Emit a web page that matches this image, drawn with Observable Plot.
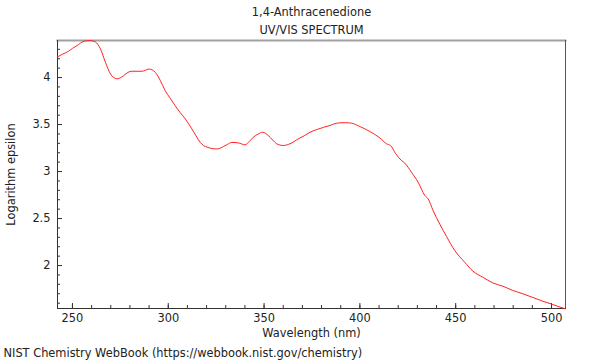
<!DOCTYPE html>
<html>
<head>
<meta charset="utf-8">
<script src="https://cdn.jsdelivr.net/npm/d3@7"></script>
<script src="https://cdn.jsdelivr.net/npm/@observablehq/plot@0.6"></script>
<style>
  html, body { margin: 0; padding: 0; background: #fff; }
  #chart { width: 600px; height: 360px; }
</style>
</head>
<body>
<div id="chart"></div>
<script>
const title = "1,4-Anthracenedione";
const subtitle = "UV/VIS SPECTRUM";
const caption = "NIST Chemistry WebBook (https://webbook.nist.gov/chemistry)";
const xLabel = "Wavelength (nm)";
const yLabel = "Logarithm epsilon";

const wavelength = [242.2, 245, 248, 250, 252.4, 255.9, 259, 262, 264.6, 267.2, 269.8, 271.5, 273.3, 276.7, 279, 281, 286.3, 290, 293.2, 295.8, 298.4, 301, 303.6, 306.3, 308.9, 312.3, 314.5, 316.7, 318.5, 320.2, 322.8, 325.4, 328.8, 331, 333.2, 336.6, 340.1, 342.3, 344.4, 347, 349.3, 352.2, 354.5, 356.6, 360, 363.5, 367.9, 370.9, 374, 378, 381, 384.4, 387, 389.6, 392.5, 395.7, 400, 405.2, 410.4, 413.9, 416, 418.75, 421.7, 423.4, 426.9, 430.4, 433.9, 435.6, 438.2, 441.7, 445.2, 449.5, 454.7, 459, 464.2, 469.4, 474.6, 479.8, 485, 490.3, 495.5, 500.7, 507];
const logEps = [4.22, 4.25, 4.28, 4.31, 4.34, 4.385, 4.394, 4.378, 4.305, 4.163, 4.04, 4.00, 3.986, 4.02, 4.055, 4.067, 4.067, 4.09, 4.056, 3.97, 3.86, 3.78, 3.70, 3.625, 3.56, 3.454, 3.38, 3.31, 3.275, 3.26, 3.245, 3.24, 3.266, 3.29, 3.31, 3.305, 3.284, 3.32, 3.365, 3.40, 3.418, 3.383, 3.335, 3.295, 3.277, 3.295, 3.348, 3.38, 3.418, 3.45, 3.47, 3.49, 3.51, 3.518, 3.52, 3.514, 3.479, 3.426, 3.358, 3.295, 3.277, 3.188, 3.117, 3.09, 2.993, 2.886, 2.745, 2.71, 2.585, 2.44, 2.31, 2.16, 2.035, 1.94, 1.875, 1.815, 1.78, 1.735, 1.70, 1.66, 1.62, 1.585, 1.54];

const xMajorTicks = [250, 300, 350, 400, 450, 500];
const xMinorTicks = [250, 260, 270, 280, 290, 300, 310, 320, 330, 340, 350, 360, 370, 380, 390, 400, 410, 420, 430, 440, 450, 460, 470, 480, 490, 500];
const yMajorTicks = [2, 2.5, 3, 3.5, 4];
const yMinorTicks = [1.6, 1.7, 1.8, 1.9, 2.0, 2.1, 2.2, 2.3, 2.4, 2.5, 2.6, 2.7, 2.8, 2.9, 3.0, 3.1, 3.2, 3.3, 3.4, 3.5, 3.6, 3.7, 3.8, 3.9, 4.0, 4.1, 4.2, 4.3];

const data = wavelength.map((w, i) => ({w, v: logEps[i]}));

const chart = Plot.plot({
  width: 600,
  height: 360,
  marginLeft: 57,
  marginRight: 35,
  marginTop: 40,
  marginBottom: 52,
  style: {fontFamily: "'DejaVu Sans', sans-serif", fontSize: "11.4px", color: "#222", background: "#fff"},
  x: {domain: [242.2, 507.3]},
  y: {domain: [1.543, 4.394]},
  marks: [
    // inward tick marks
    Plot.axisX({ticks: xMinorTicks, tickSize: 3, dy: -3, text: null, stroke: "#333", label: null}),
    Plot.axisX({ticks: xMajorTicks, tickSize: 5, dy: -5, text: null, stroke: "#333", label: null}),
    Plot.axisY({ticks: yMinorTicks, tickSize: 3, dx: 3, text: null, stroke: "#333", label: null}),
    Plot.axisY({ticks: yMajorTicks, tickSize: 5, dx: 5, text: null, stroke: "#333", label: null}),
    // tick labels and axis titles
    Plot.axisX({ticks: xMajorTicks, tickSize: 0, tickPadding: 5, fill: "#222",
      label: xLabel, labelAnchor: "center", labelArrow: "none", labelOffset: 28}),
    Plot.axisY({ticks: yMajorTicks, tickSize: 0, tickPadding: 7, fill: "#222",
      tickFormat: d => String(d),
      label: yLabel, labelAnchor: "center", labelArrow: "none", labelOffset: 51}),
    Plot.frame({anchor: "top", stroke: "#a0a0a0", strokeWidth: 2}),
    Plot.frame({anchor: "right", stroke: "#555"}),
    Plot.frame({anchor: "left", stroke: "#333"}),
    Plot.frame({anchor: "bottom", stroke: "#333"}),
    Plot.line(data, {x: "w", y: "v", stroke: "#ff2020", strokeWidth: 1, curve: "monotone-x"}),
    Plot.text([title], {frameAnchor: "top", dy: -33, fill: "#222"}),
    Plot.text([subtitle], {frameAnchor: "top", dy: -15, fill: "#222"}),
    Plot.text([caption], {frameAnchor: "bottom-left", textAnchor: "start", dx: -54, dy: 48, fill: "#222"})
  ]
});
document.getElementById("chart").appendChild(chart);
</script>
</body>
</html>
